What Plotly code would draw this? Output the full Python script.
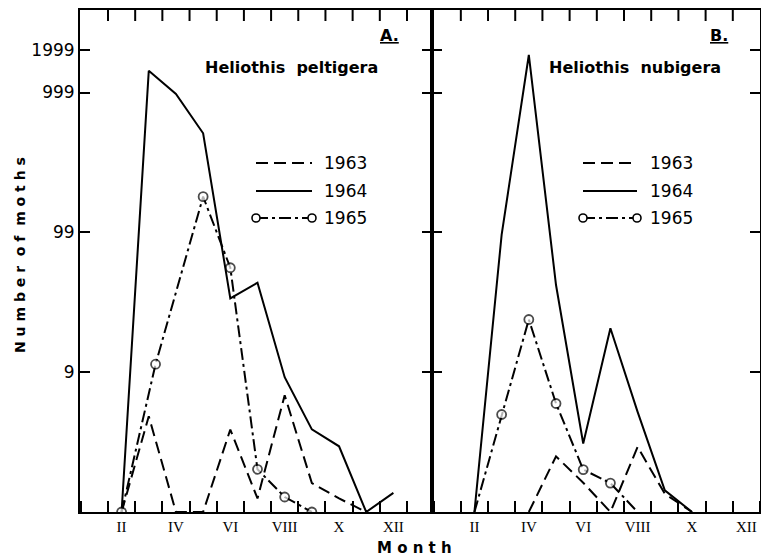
import plotly.graph_objects as go

# ---------------- data (number of moths per month) ----------------
month_labels = ["II", "IV", "VI", "VIII", "X", "XII"]
month_label_vals = [2, 4, 6, 8, 10, 12]
month_boundaries = [1.5, 2.5, 3.5, 4.5, 5.5, 6.5, 7.5, 8.5, 9.5, 10.5, 11.5, 12.5]

# Panel A: Heliothis peltigera
a63_months = [2, 3, 4, 5, 6, 7, 8, 9, 10, 11]
a63_counts = [0, 3.84, 0, 0, 2.89, 0.25, 5.84, 0.61, 0.25, 0]
a64_months = [2, 3, 4, 5, 6, 7, 8, 9, 10, 11, 12]
a64_counts = [0, 1428, 976, 510, 32.7, 42.6, 8.2, 2.9, 1.95, 0, 0.37]
a65_months = [2, 3.25, 5, 6, 7, 8, 9]
a65_counts = [0, 10.4, 179, 54.8, 1.02, 0.28, 0]

# Panel B: Heliothis nubigera
b63_months = [4, 5, 6, 7, 8, 9, 10]
b63_counts = [0, 1.5, 0.62, 0, 1.92, 0.35, 0]
b64_months = [2, 3, 4, 5, 6, 7, 8, 9, 10]
b64_counts = [0, 95, 1854, 41, 2.09, 19.6, 4.2, 0.43, 0]
b65_months = [2, 3, 4, 5, 6, 7, 8]
b65_counts = [0, 3.98, 22.8, 4.97, 1.01, 0.61, 0]
b65_marked = [False, True, True, True, True, True, False]

years = ["1963", "1964", "1965"]
y_tick_vals = [9, 99, 999, 1999]
y_tick_text = ["9", "99", "999", "1999"]

# ---------------- styling ----------------
BLACK = "#000000"
DASHES = {"1963": "12px,6px", "1964": "solid", "1965": "12px,4px,3px,4px"}
LW = 2


def plus1(vals):
    return [v + 1 for v in vals]


fig = go.Figure()


def add_panel(xa, ya, m63, c63, m64, c64, m65, c65, sizes65):
    fig.add_trace(go.Scatter(x=m63, y=plus1(c63), mode="lines", name="1963",
                             xaxis=xa, yaxis=ya, showlegend=False,
                             line=dict(color=BLACK, width=LW, dash=DASHES["1963"])))
    fig.add_trace(go.Scatter(x=m64, y=plus1(c64), mode="lines", name="1964",
                             xaxis=xa, yaxis=ya, showlegend=False,
                             line=dict(color=BLACK, width=LW, dash=DASHES["1964"])))
    fig.add_trace(go.Scatter(x=m65, y=plus1(c65), mode="lines+markers", name="1965",
                             xaxis=xa, yaxis=ya, showlegend=False,
                             line=dict(color=BLACK, width=LW, dash=DASHES["1965"]),
                             marker=dict(symbol="circle", size=sizes65, color="white",
                                         line=dict(color=BLACK, width=1.8))))


add_panel("x", "y", a63_months, a63_counts, a64_months, a64_counts,
          a65_months, a65_counts, [9] * len(a65_months))
add_panel("x2", "y2", b63_months, b63_counts, b64_months, b64_counts,
          b65_months, b65_counts, [9 if m else 0 for m in b65_marked])

W, H = 761, 559
ML, MR, MT, MB = 80, 1, 10, 47
PW = W - ML - MR
PH = H - MT - MB
split = (432 - ML) / PW
TICKLEN_X = 11
xa_range = [0.47, 13.42]
xb_range = [0.44, 12.5]


def px(xp):
    return (xp - ML) / PW


def py(yp):
    return 1 - (yp - MT) / PH


xcommon = dict(
    tickmode="array", tickvals=month_label_vals, ticktext=month_labels,
    ticks="", showline=True, linecolor=BLACK, linewidth=2, mirror=True,
    showgrid=False, zeroline=False,
    tickfont=dict(family="Liberation Serif", size=15, color=BLACK),
    minor=dict(ticks="inside", tick0=0.5, dtick=1, ticklen=TICKLEN_X, tickwidth=2,
               tickcolor=BLACK, showgrid=False),
)
ycommon = dict(
    type="log", range=[0, 3.59], tickmode="array",
    tickvals=plus1(y_tick_vals), ticktext=y_tick_text,
    ticks="inside", ticklen=10, tickwidth=1.5, tickcolor=BLACK,
    showline=True, linecolor=BLACK, linewidth=2, mirror="ticks",
    showgrid=False, zeroline=False,
)

fig.update_layout(
    width=W, height=H,
    margin=dict(l=ML, r=MR, t=MT, b=MB, autoexpand=False),
    paper_bgcolor="white", plot_bgcolor="white",
    showlegend=False,
    xaxis=dict(domain=[0, split], range=xa_range, anchor="y", **xcommon),
    xaxis2=dict(domain=[split, 1], range=xb_range, anchor="y2", **xcommon),
    yaxis=dict(domain=[0, 1], anchor="x",
               tickfont=dict(family="DejaVu Sans", size=17, color=BLACK), **ycommon),
    yaxis2=dict(domain=[0, 1], anchor="x2", matches="y", showticklabels=False,
                **ycommon),
)

# top-edge month-boundary ticks (mirrors of the bottom ones), placed on the x scale
for xref, xr in (("x", xa_range), ("x2", xb_range)):
    for b in month_boundaries:
        if xr[0] < b < xr[1]:
            fig.add_shape(type="line", xref=xref, yref="paper",
                          x0=b, x1=b, y0=1, y1=1 - TICKLEN_X / PH,
                          line=dict(color=BLACK, width=2))

# ---------------- hand-drawn style legends ----------------
legend_rows = [163, 191, 218]
for (x0, x1, xt) in [(256, 312, 322), (583, 637, 648)]:
    for yr, yrow in zip(years, legend_rows):
        fig.add_shape(type="line", xref="paper", yref="paper",
                      x0=px(x0), x1=px(x1), y0=py(yrow), y1=py(yrow),
                      line=dict(color=BLACK, width=LW, dash=DASHES[yr]))
        if yr == "1965":
            for xc in (x0, x1):
                fig.add_shape(type="circle", xref="paper", yref="paper",
                              x0=px(xc - 4), x1=px(xc + 4),
                              y0=py(yrow + 4), y1=py(yrow - 4),
                              fillcolor="white", line=dict(color=BLACK, width=1.6))
        fig.add_annotation(text=yr, xref="paper", yref="paper",
                           x=px(xt), y=py(yrow), xanchor="left", yanchor="middle",
                           showarrow=False,
                           font=dict(family="DejaVu Sans", size=17, color=BLACK))

ann_font = dict(family="DejaVu Sans", size=16, color=BLACK, weight="bold")


def label(text, xp, yp, font, angle=0):
    fig.add_annotation(text=text, xref="paper", yref="paper", x=px(xp), y=py(yp),
                       xanchor="center", yanchor="middle", textangle=angle,
                       showarrow=False, font=font)


label("Heliothis  peltigera", 291, 67, ann_font)
label("<u>A.</u>", 389, 36, ann_font)
label("Heliothis  nubigera", 635, 67, ann_font)
label("<u>B.</u>", 719, 36, ann_font)
label("N u m b e r  o f  m o t h s", 20, 255,
      dict(family="DejaVu Sans", size=14, color=BLACK, weight="bold"), angle=-90)
label("M o n t h", 414, 548,
      dict(family="DejaVu Sans", size=15, color=BLACK, weight="bold"))

fig.write_html("out.html",
               config={"displayModeBar": False},
               post_script="document.body.style.margin='0';"
                           "document.body.style.overflow='hidden';")
